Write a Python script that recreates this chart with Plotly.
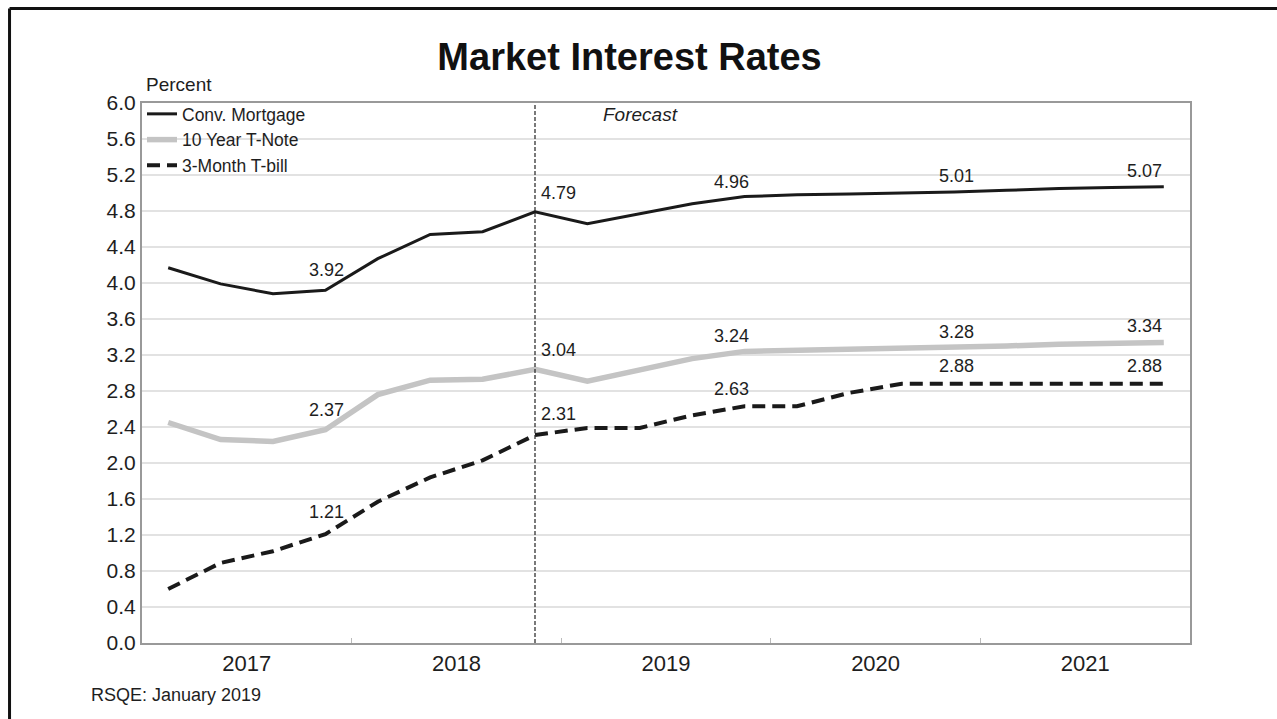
import plotly.graph_objects as go

# Quarterly history and forecast, 2017Q1 - 2021Q4
quarters = ["2017Q1", "2017Q2", "2017Q3", "2017Q4",
            "2018Q1", "2018Q2", "2018Q3", "2018Q4",
            "2019Q1", "2019Q2", "2019Q3", "2019Q4",
            "2020Q1", "2020Q2", "2020Q3", "2020Q4",
            "2021Q1", "2021Q2", "2021Q3", "2021Q4"]

conv_mortgage = [4.17, 3.99, 3.88, 3.92, 4.27, 4.54, 4.57, 4.79,
                 4.66, 4.77, 4.88, 4.96, 4.98, 4.99, 5.00, 5.01,
                 5.03, 5.05, 5.06, 5.07]
ten_year_note = [2.45, 2.26, 2.24, 2.37, 2.76, 2.92, 2.93, 3.04,
                 2.91, 3.04, 3.16, 3.24, 3.25, 3.26, 3.27, 3.28,
                 3.30, 3.32, 3.33, 3.34]
three_month_bill = [0.60, 0.89, 1.02, 1.21, 1.57, 1.84, 2.03, 2.31,
                    2.39, 2.39, 2.53, 2.63, 2.63, 2.78, 2.88, 2.88,
                    2.88, 2.88, 2.88, 2.88]

year_labels = ["2017", "2018", "2019", "2020", "2021"]
forecast_start = "2018Q4"
labelled_quarters = ["2017Q4", "2018Q4", "2019Q4", "2020Q4", "2021Q4"]


def quarter_pos(q):
    """Place a quarter at the middle of its span on a continuous year axis."""
    year, qn = q.split("Q")
    return int(year) + (int(qn) - 0.5) / 4


xs = [quarter_pos(q) for q in quarters]

FONT = "Liberation Sans, Arial, sans-serif"
INK = "#1e1e1e"

fig = go.Figure()

fig.add_trace(go.Scatter(
    x=xs, y=conv_mortgage, mode="lines", name="Conv. Mortgage",
    line=dict(color="#1a1a1a", width=3),
))
fig.add_trace(go.Scatter(
    x=xs, y=ten_year_note, mode="lines", name="10 Year T-Note",
    line=dict(color="#c4c4c4", width=5.5),
))
fig.add_trace(go.Scatter(
    x=xs, y=three_month_bill, mode="lines", name="3-Month T-bill",
    line=dict(color="#1a1a1a", width=4, dash="13px,7px"),
))

# Forecast divider
fx = quarter_pos(forecast_start)
fig.add_shape(type="line", xref="x", yref="y", x0=fx, x1=fx, y0=0, y1=6,
              line=dict(color="#222222", width=1.2, dash="4px,2px"), layer="above")

# Value labels: placement per labelled quarter (anchor, x shift, y shift)
placement = {
    "2017Q4": ("center", 1, 20),
    "2018Q4": ("left", 4, 19),
    "2019Q4": ("center", -13, 15),
    "2020Q4": ("center", 2, 16),
    "2021Q4": ("right", 0, 16),
}
series_shift = [0, 0, 2]
for s_idx, series in enumerate([conv_mortgage, ten_year_note, three_month_bill]):
    for q in labelled_quarters:
        i = quarters.index(q)
        anchor, dx, dy = placement[q]
        fig.add_annotation(
            x=xs[i], y=series[i], xref="x", yref="y",
            text=f"{series[i]:.2f}", showarrow=False,
            xanchor=anchor, yanchor="middle",
            xshift=dx, yshift=dy + series_shift[s_idx],
            font=dict(family=FONT, size=18, color=INK),
        )

# Axis caption, forecast tag, source note
fig.add_annotation(text="Percent", xref="paper", yref="paper", x=0.002, y=1.035,
                   xanchor="left", yanchor="middle", showarrow=False,
                   font=dict(family=FONT, size=19, color=INK))
fig.add_annotation(text="<i>Forecast</i>", xref="paper", yref="paper", x=0.4752, y=0.9796,
                   xanchor="center", yanchor="middle", showarrow=False,
                   font=dict(family=FONT, size=19, color=INK))
fig.add_annotation(text="RSQE: January 2019", xref="paper", yref="paper", x=-0.0506, y=-0.0963,
                   xanchor="left", yanchor="middle", showarrow=False,
                   font=dict(family=FONT, size=18, color=INK))

# Slide frame (left and top edges)
fig.add_shape(type="line", xref="paper", yref="paper", x0=-0.1264, x1=-0.1264, y0=1.175, y1=-0.15,
              line=dict(color="#111111", width=3))
fig.add_shape(type="line", xref="paper", yref="paper", x0=-0.1264, x1=1.09, y0=1.175, y1=1.175,
              line=dict(color="#111111", width=3))

fig.update_layout(
    width=1277, height=719,
    margin=dict(l=142, r=87, t=103, b=76),
    paper_bgcolor="white", plot_bgcolor="white",
    font=dict(family=FONT, color=INK),
    title=dict(text="<b>Market Interest Rates</b>", x=0.493, y=0.921,
               xref="container", yref="container", xanchor="center", yanchor="middle",
               font=dict(family=FONT, size=38, color="#111111")),
    showlegend=True,
    legend=dict(x=0.0, y=1.013, xanchor="left", yanchor="top",
                bgcolor="rgba(0,0,0,0)", borderwidth=0,
                font=dict(family=FONT, size=17.5, color=INK),
                itemwidth=30, tracegroupgap=0),
    xaxis=dict(range=[2017, 2022],
               tickvals=[int(y) + 0.5 for y in year_labels], ticktext=year_labels,
               ticks="", showgrid=False, zeroline=False,
               showline=True, linecolor="#999999", linewidth=2, mirror=True,
               tickfont=dict(family=FONT, size=22, color=INK),
               minor=dict(tickvals=[int(y) for y in year_labels[1:]], ticks="inside",
                          ticklen=5, tickcolor="#bbbbbb", tickwidth=1, showgrid=False)),
    yaxis=dict(range=[0, 6], dtick=0.4, tick0=0, tickformat=".1f",
               ticks="", showgrid=True, gridcolor="#e2e2e2", gridwidth=1.5,
               zeroline=False, showline=True, linecolor="#999999", linewidth=2, mirror=True,
               tickfont=dict(family=FONT, size=21, color=INK)),
)

fig.write_html("out.html")
